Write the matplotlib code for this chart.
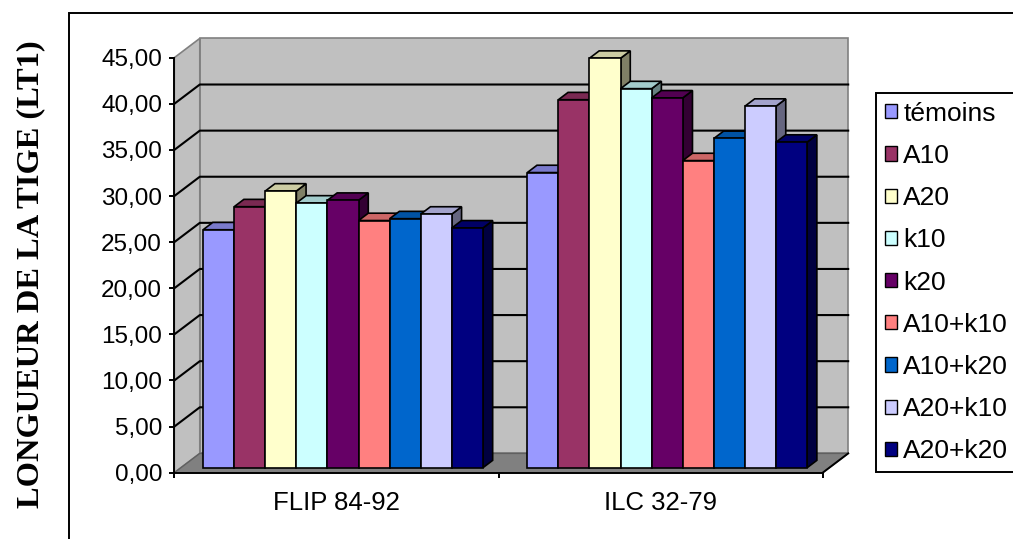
import matplotlib
matplotlib.use('Agg')
import matplotlib.pyplot as plt
from matplotlib.patches import Polygon, Rectangle, Patch
from matplotlib.lines import Line2D
from matplotlib.ticker import FixedLocator, FuncFormatter

# ---------------- data ----------------
categories = ['FLIP 84-92', 'ILC 32-79']
series = ['témoins', 'A10', 'A20', 'k10', 'k20',
          'A10+k10', 'A10+k20', 'A20+k10', 'A20+k20']
temoins = [25.8, 32.0]
a10 = [28.3, 39.9]
a20 = [30.0, 44.4]
k10 = [28.7, 41.1]
k20 = [29.0, 40.1]
a10k10 = [26.8, 33.3]
a10k20 = [27.0, 35.7]
a20k10 = [27.5, 39.2]
a20k20 = [26.0, 35.3]
values = [temoins, a10, a20, k10, k20, a10k10, a10k20, a20k10, a20k20]
colors = ['#9999FF', '#993366', '#FFFFCC', '#CCFFFF', '#660066',
          '#FF8080', '#0066CC', '#CCCCFF', '#000080']
y_ticks = [0, 5, 10, 15, 20, 25, 30, 35, 40, 45]
y_label = 'LONGUEUR DE LA TIGE (LT1)'

# ---------------- figure ----------------
W, H = 1013, 539
fig = plt.figure(figsize=(W / 100, H / 100), dpi=100)
fig.patch.set_facecolor('white')

L, R, B, T = 174.3, 822.7, 472.7, 57.7
ax = fig.add_axes([L / W, 1 - B / H, (R - L) / W, (B - T) / H])
ax.set_xlim(0, len(categories))
ax.set_ylim(0, 45)
ax.patch.set_visible(False)

# depth (oblique projection) expressed in pixels, converted to data units
DEPTH_PX = (25.5, 19.3)
p0 = ax.transData.transform((0, 0))
p1 = ax.transData.transform((1, 1))
sx, sy = p1[0] - p0[0], p1[1] - p0[1]


def pt(x, y, t):
    return (x + t * DEPTH_PX[0] / sx, y + t * DEPTH_PX[1] / sy)


def shade(c, f):
    r, g, b = matplotlib.colors.to_rgb(c)
    return (r * f, g * f, b * f)


ncat = len(categories)
ymax = 45
wall = '#C0C0C0'
edge = '#808080'
# back wall
ax.add_patch(Polygon([pt(0, 0, 1), pt(ncat, 0, 1), pt(ncat, ymax, 1), pt(0, ymax, 1)],
                     closed=True, fc=wall, ec=edge, lw=1.2, clip_on=False, zorder=1))
# side wall
ax.add_patch(Polygon([pt(0, 0, 0), pt(0, 0, 1), pt(0, ymax, 1), pt(0, ymax, 0)],
                     closed=True, fc=wall, ec=edge, lw=1.2, clip_on=False, zorder=1))
# floor
ax.add_patch(Polygon([pt(0, 0, 0), pt(ncat, 0, 0), pt(ncat, 0, 1), pt(0, 0, 1)],
                     closed=True, fc='#808080', ec='#606060', lw=1.0, clip_on=False, zorder=1.5))
a, b = pt(ncat, 0, 0), pt(ncat, 0, 1)
ax.add_line(Line2D([a[0], b[0]], [a[1], b[1]], color='black', lw=1.4, clip_on=False, zorder=1.6))

# gridlines on walls
for v in y_ticks[1:-1]:
    a, b, c = pt(0, v, 0), pt(0, v, 1), pt(ncat, v, 1)
    ax.add_line(Line2D([a[0], b[0], c[0]], [a[1], b[1], c[1]], color='black', lw=1.5,
                       clip_on=False, zorder=1.2))

# bars
nser = len(series)
bw = 31.1 / sx
gap = (1 - nser * bw) / 2
tf, td = 0.26, 0.38
tb = tf + td
z = 2
for ci in range(ncat):
    for si in range(nser):
        v = values[si][ci]
        col = colors[si]
        x0 = ci + gap + si * bw
        x1 = x0 + bw
        side = [pt(x1, 0, tf), pt(x1, 0, tb), pt(x1, v, tb), pt(x1, v, tf)]
        top = [pt(x0, v, tf), pt(x1, v, tf), pt(x1, v, tb), pt(x0, v, tb)]
        front = [pt(x0, 0, tf), pt(x1, 0, tf), pt(x1, v, tf), pt(x0, v, tf)]
        ax.add_patch(Polygon(side, closed=True, fc=shade(col, 0.5), ec='black', lw=1.2,
                             clip_on=False, zorder=z, joinstyle='miter'))
        ax.add_patch(Polygon(top, closed=True, fc=shade(col, 0.8), ec='black', lw=1.2,
                             clip_on=False, zorder=z + 0.1, joinstyle='miter'))
        ax.add_patch(Polygon(front, closed=True, fc=col, ec='black', lw=1.2,
                             clip_on=False, zorder=z + 0.2, joinstyle='miter'))
        z += 1

# axes
for s in ['top', 'right']:
    ax.spines[s].set_visible(False)
for s in ['left', 'bottom']:
    ax.spines[s].set_color('black')
    ax.spines[s].set_linewidth(1.4)
    ax.spines[s].set_zorder(100)

sans = 'Liberation Sans'
ax.yaxis.set_major_locator(FixedLocator(y_ticks))
ax.yaxis.set_major_formatter(FuncFormatter(lambda v, p: f'{v:.2f}'.replace('.', ',')))
ax.tick_params(axis='y', direction='out', length=3.8, width=1.4, pad=5, labelsize=17.5,
               colors='black')
ax.set_xticks([i + 0.5 for i in range(ncat)])
ax.set_xticklabels(categories)
ax.set_xticks(list(range(ncat + 1)), minor=True)
ax.tick_params(axis='x', which='major', length=0, pad=13, labelsize=18.5)
ax.tick_params(axis='x', which='minor', direction='out', length=3.8, width=1.4)
for lab in ax.get_xticklabels() + ax.get_yticklabels():
    lab.set_fontfamily(sans)

# y label
fig.text(31 / W, 1 - 274 / H, y_label, rotation=90, ha='center', va='center',
         fontsize=23.4, fontweight='bold', family='Liberation Serif')

# outer chart border
fig.patches.append(Rectangle((69 / W, -0.5), 2, (1 - 13.3 / H) + 0.5, transform=fig.transFigure,
                             fill=False, ec='black', lw=1.4))

# legend
handles = [Patch(facecolor=c, edgecolor='black', linewidth=1.0) for c in colors]
leg = fig.legend(handles, series, loc='upper left', bbox_to_anchor=(876 / W, 1 - 93 / H),
                 frameon=True, fancybox=False, edgecolor='black', framealpha=1,
                 prop={'family': sans, 'size': 19}, handlelength=0.45, handleheight=0.45,
                 handletextpad=0.25, labelspacing=0.69, borderpad=0.33, borderaxespad=0)
leg.get_frame().set_linewidth(1.4)

fig.savefig('out.png', dpi=100)
